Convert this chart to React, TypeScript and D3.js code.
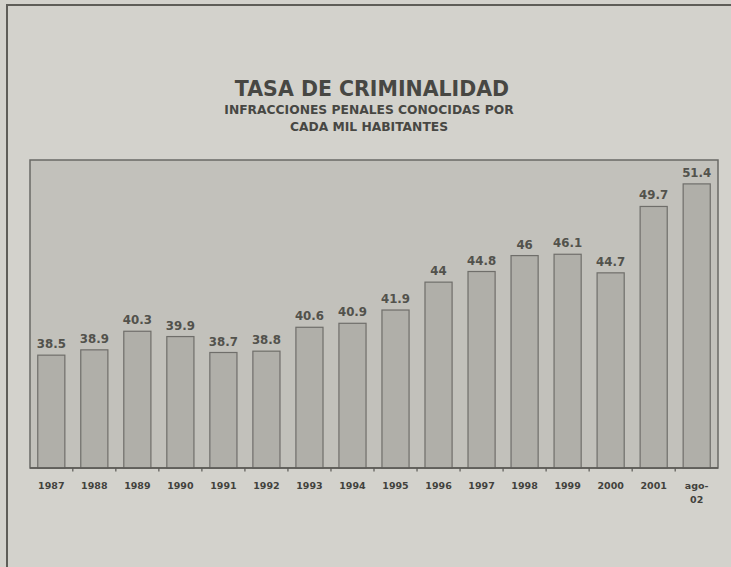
import React from "react";
import * as d3 from "d3";

const categories = [
  "1987", "1988", "1989", "1990", "1991", "1992", "1993", "1994",
  "1995", "1996", "1997", "1998", "1999", "2000", "2001", "ago-02",
];
const values = [
  38.5, 38.9, 40.3, 39.9, 38.7, 38.8, 40.6, 40.9,
  41.9, 44, 44.8, 46, 46.1, 44.7, 49.7, 51.4,
];
const titleLines = ["TASA DE CRIMINALIDAD"];
const subtitleLines = ["INFRACCIONES PENALES CONOCIDAS POR", "CADA MIL HABITANTES"];

const width = 731;
const height = 567;
const plot = { left: 30, right: 718, top: 160, bottom: 468 };
const font = "'DejaVu Sans', Verdana, sans-serif";
const ink = "#474743";

export default function App() {
  const x = d3
    .scaleBand<string>()
    .domain(categories)
    .range([plot.left, plot.right])
    .paddingInner(0.37)
    .paddingOuter(0.18);
  const y = d3.scaleLinear().domain([30, 53.2]).range([plot.bottom, plot.top]);

  // tick marks sit halfway between neighbouring bars
  const gaps = categories.slice(1).map((c) => (x(c) ?? 0) - (x.step() - x.bandwidth()) / 2);

  return (
    <svg
      width={width}
      height={height}
      style={{ position: "fixed", left: 0, top: 0, display: "block" }}
      fontFamily={font}
    >
      <rect x={0} y={0} width={width} height={height} fill="#d3d2cc" />
      <rect x={7} y={5} width={width + 10} height={height + 10} fill="none" stroke="#5e5d58" strokeWidth={2} />

      {titleLines.map((t, i) => (
        <text key={t} x={372} y={96 + i * 20} textAnchor="middle" fontSize={20.5} fontWeight="bold" fill={ink}>
          {t}
        </text>
      ))}
      {subtitleLines.map((t, i) => (
        <text key={t} x={369} y={114 + i * 17} textAnchor="middle" fontSize={12.3} fontWeight="bold" fill={ink}>
          {t}
        </text>
      ))}

      <rect
        x={plot.left}
        y={plot.top}
        width={plot.right - plot.left}
        height={plot.bottom - plot.top}
        fill="#c2c1bb"
        stroke="#6a6965"
        strokeWidth={1.5}
      />

      {values.map((v, i) => {
        const c = categories[i];
        const bx = x(c) ?? 0;
        return (
          <g key={c}>
            <rect
              x={bx}
              y={y(v)}
              width={x.bandwidth()}
              height={plot.bottom - y(v)}
              fill="#b0afa9"
              stroke="#6f6e6a"
              strokeWidth={1.2}
            />
            <text
              x={bx + x.bandwidth() / 2}
              y={y(v) - 7}
              textAnchor="middle"
              fontSize={11.8}
              fontWeight="bold"
              fill="#52524c"
            >
              {v}
            </text>
          </g>
        );
      })}

      <line x1={plot.left} x2={plot.right} y1={plot.bottom} y2={plot.bottom} stroke="#5a5955" strokeWidth={1.5} />
      {gaps.map((gx, i) => (
        <line key={i} x1={gx} x2={gx} y1={plot.bottom} y2={plot.bottom + 3.5} stroke="#5a5955" strokeWidth={1.2} />
      ))}

      {categories.map((c) => {
        const cx = (x(c) ?? 0) + x.bandwidth() / 2;
        const parts = c.includes("-") ? [c.split("-")[0] + "-", c.split("-")[1]] : [c];
        return (
          <text key={c} x={cx} y={489} textAnchor="middle" fontSize={9.5} fontWeight="bold" fill="#42423d">
            {parts.map((p, j) => (
              <tspan key={j} x={cx} dy={j === 0 ? 0 : 14}>
                {p}
              </tspan>
            ))}
          </text>
        );
      })}
    </svg>
  );
}
